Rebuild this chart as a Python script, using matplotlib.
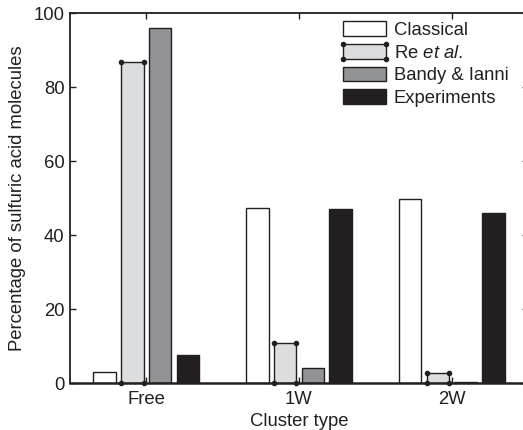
import matplotlib
matplotlib.use("Agg")
import matplotlib.pyplot as plt
from matplotlib.patches import Rectangle
from matplotlib.lines import Line2D
from matplotlib.legend_handler import HandlerPatch
import numpy as np

plt.rcParams['font.family'] = ['Liberation Sans', 'DejaVu Sans']
plt.rcParams['mathtext.fontset'] = 'custom'
plt.rcParams['mathtext.it'] = 'Liberation Sans:italic'
plt.rcParams['mathtext.rm'] = 'Liberation Sans'

categories = ["Free", "1W", "2W"]
series_names = ["Classical", "Re $\\it{et\\ al.}$", "Bandy & Ianni", "Experiments"]
classical = [2.9, 47.4, 49.9]
re_etal = [86.8, 10.7, 2.6]
bandy = [95.9, 4.0, 0.3]
experiments = [7.6, 47.1, 46.1]
yticks = [0, 20, 40, 60, 80, 100]

series = [classical, re_etal, bandy, experiments]
colors = ["#ffffff", "#dcdddf", "#929396", "#231f20"]
edge = "#231f20"
FS = 13.3

fig = plt.figure(figsize=(5.23, 4.30), dpi=100)
ax = fig.add_axes([70/523, 47/430, 458/523, (383-13.3)/430])

x = np.arange(1, len(categories) + 1)
step = 0.182
width = 0.147
offsets = (np.arange(4) - 1.5) * step
containers = []
for i, (vals, col) in enumerate(zip(series, colors)):
    bc = ax.bar(x + offsets[i], vals, width, color=col, edgecolor=edge,
                linewidth=1.0, label=series_names[i], zorder=2)
    containers.append(bc)

# corner dots on the Re et al. bars
for p in containers[1].patches:
    x0, y0 = p.get_x(), p.get_y()
    w, h = p.get_width(), p.get_height()
    ax.plot([x0, x0 + w, x0 + w, x0], [y0, y0, y0 + h, y0 + h], ls='none',
            marker='o', ms=3, color=edge, zorder=3, clip_on=False)

ax.set_xlim(0.5, 3.5)
ax.set_ylim(0, 100)
ax.set_xticks(x)
ax.set_xticklabels(categories)
ax.set_yticks(yticks)
ax.tick_params(direction='in', length=4, width=1, top=True, right=True,
               labelsize=FS, colors='#231f20', pad=4)
ax.tick_params(axis='x', pad=6)
for s in ax.spines.values():
    s.set_linewidth(1.3)
    s.set_color('#231f20')
ax.spines['bottom'].set_linewidth(1.8)
ax.set_xlabel("Cluster type", fontsize=FS, color='#231f20', labelpad=3)
ax.set_ylabel("Percentage of sulfuric acid molecules", fontsize=FS,
              color='#231f20', labelpad=5)


class DotHandler(HandlerPatch):
    def create_artists(self, legend, orig_handle, xdescent, ydescent, width,
                       height, fontsize, trans):
        r = Rectangle((-xdescent, -ydescent), width, height,
                      facecolor=orig_handle.get_facecolor(),
                      edgecolor=orig_handle.get_edgecolor(),
                      linewidth=1.0, transform=trans)
        xs = [-xdescent, -xdescent + width, -xdescent + width, -xdescent]
        ys = [-ydescent, -ydescent, -ydescent + height, -ydescent + height]
        ln = Line2D(xs, ys, ls='none', marker='o', ms=3, color=edge,
                    transform=trans)
        return [r, ln]


handles = [c.patches[0] for c in containers]
leg = ax.legend(handles, series_names, loc='upper left',
                bbox_to_anchor=(0.596, 0.978), frameon=False,
                fontsize=FS, handlelength=2.35, handleheight=0.85,
                labelspacing=0.26, handletextpad=0.4, borderaxespad=0,
                borderpad=0,
                handler_map={handles[1]: DotHandler()})
for t in leg.get_texts():
    t.set_color('#231f20')

fig.savefig("out.png", dpi=100)
